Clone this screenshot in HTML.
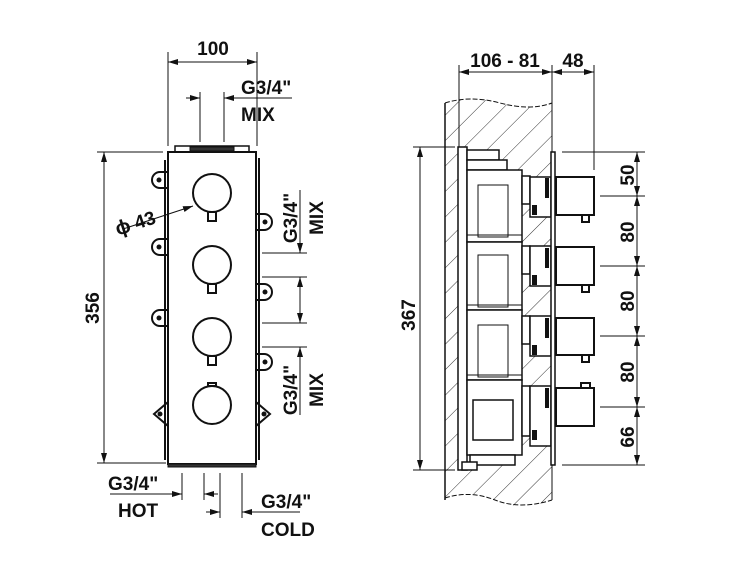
<!DOCTYPE html>
<html><head><meta charset="utf-8"><style>html,body{margin:0;padding:0;background:#fff}svg{display:block}text{font-family:"Liberation Sans",Arial,sans-serif;font-weight:bold;fill:#111}</style></head><body>
<svg width="750" height="563" viewBox="0 0 750 563" xmlns="http://www.w3.org/2000/svg">
<defs>
<pattern id="h" width="18" height="18" patternUnits="userSpaceOnUse" patternTransform="rotate(45)"><line x1="0" y1="0" x2="0" y2="18" stroke="#333" stroke-width="1"/></pattern>
<marker id="a" viewBox="0 0 10 6" refX="10" refY="3" markerWidth="10" markerHeight="6" orient="auto-start-reverse" markerUnits="userSpaceOnUse"><path d="M0,0L10,3L0,6z" fill="#111"/></marker>
</defs>
<g stroke="#111" fill="none" stroke-width="1">
<g stroke-width="2" fill="#fff">
<path d="M168,172 h-8 a8,8 0 0 0 0,16 h8"/><path d="M168,239 h-8 a8,8 0 0 0 0,16 h8"/><path d="M168,310 h-8 a8,8 0 0 0 0,16 h8"/>
<path d="M256,214 h8 a8,8 0 0 1 0,16 h-8"/><path d="M256,284 h8 a8,8 0 0 1 0,16 h-8"/><path d="M256,354 h8 a8,8 0 0 1 0,16 h-8"/>
<path d="M168,402 l-14,12 l14,12"/><path d="M256,402 l14,12 l-14,12"/>
</g>
<g fill="#111" stroke="none"><circle cx="159" cy="180" r="2.5"/><circle cx="159" cy="247" r="2.5"/><circle cx="159" cy="318" r="2.5"/><circle cx="265" cy="222" r="2.5"/><circle cx="265" cy="292" r="2.5"/><circle cx="265" cy="362" r="2.5"/><circle cx="160" cy="414" r="2.5"/><circle cx="264" cy="414" r="2.5"/></g>
<path d="M165,160 v300 M259,158 v302" stroke-width="2"/>
<rect x="168" y="152" width="88" height="312" fill="#fff" stroke-width="2"/>
<rect x="175" y="146" width="74" height="6" stroke-width="1.5"/>
<rect x="190" y="147" width="44" height="4" fill="#333"/>
<rect x="168" y="464" width="88" height="3" fill="#333"/>
<g stroke-width="2" fill="#fff">
<circle cx="212" cy="193" r="19"/><rect x="208" y="212" width="8" height="9"/>
<circle cx="212" cy="265" r="19"/><rect x="208" y="284" width="8" height="9"/>
<circle cx="212" cy="337" r="19"/><rect x="208" y="356" width="8" height="9"/>
<circle cx="212" cy="405" r="19"/><rect x="208" y="383" width="8" height="3"/>
</g>
<line x1="168" y1="52" x2="168" y2="146"/><line x1="257" y1="52" x2="257" y2="146"/>
<line x1="168" y1="62" x2="257" y2="62" marker-start="url(#a)" marker-end="url(#a)"/>
<line x1="200" y1="92" x2="200" y2="142"/><line x1="224" y1="92" x2="224" y2="142"/>
<line x1="186" y1="98" x2="200" y2="98" marker-end="url(#a)"/><line x1="238" y1="98" x2="224" y2="98" marker-end="url(#a)"/><line x1="224" y1="98" x2="292" y2="98"/>
<line x1="97" y1="152" x2="163" y2="152"/><line x1="97" y1="463" x2="166" y2="463"/>
<line x1="104" y1="152" x2="104" y2="463" marker-start="url(#a)" marker-end="url(#a)"/>
<line x1="123" y1="229" x2="193" y2="206" marker-end="url(#a)"/>
<line x1="262" y1="253" x2="307" y2="253"/><line x1="262" y1="277" x2="307" y2="277"/>
<line x1="300" y1="190" x2="300" y2="253" marker-end="url(#a)"/><line x1="300" y1="300" x2="300" y2="277" marker-end="url(#a)"/>
<line x1="262" y1="323" x2="307" y2="323"/><line x1="262" y1="347" x2="307" y2="347"/>
<line x1="300" y1="300" x2="300" y2="323" marker-end="url(#a)"/><line x1="300" y1="415" x2="300" y2="347" marker-end="url(#a)"/>
<line x1="182" y1="473" x2="182" y2="500"/><line x1="204" y1="473" x2="204" y2="500"/>
<line x1="110" y1="494" x2="182" y2="494" marker-end="url(#a)"/><line x1="218" y1="494" x2="204" y2="494" marker-end="url(#a)"/>
<line x1="220" y1="473" x2="220" y2="518"/><line x1="242" y1="473" x2="242" y2="518"/>
<line x1="206" y1="512" x2="220" y2="512" marker-end="url(#a)"/><line x1="300" y1="512" x2="242" y2="512" marker-end="url(#a)"/>
<!-- RIGHT VIEW -->
<path d="M445,103 Q470,95 500,103 T552,103 V500 Q520,512 495,500 T445,498 Z" fill="url(#h)" stroke="none"/>
<path d="M445,103 V500" stroke-width="1.5"/>
<path d="M445,103 Q470,95 500,103 T552,103" stroke-dasharray="5,2"/>
<path d="M445,498 Q470,490 495,500 T552,500" stroke-dasharray="5,2"/>
<line x1="552" y1="103" x2="552" y2="500"/>
<g fill="#fff" stroke-width="1.5">
<rect x="458" y="147" width="9" height="323"/>
<rect x="467" y="150" width="32" height="10"/><rect x="467" y="160" width="40" height="10"/>
<rect x="467" y="170" width="55" height="72"/><rect x="467" y="242" width="55" height="68"/><rect x="467" y="310" width="55" height="70"/><rect x="467" y="380" width="55" height="75"/>
<rect x="522" y="176" width="8" height="28"/><rect x="522" y="246" width="8" height="28"/><rect x="522" y="316" width="8" height="28"/><rect x="522" y="386" width="8" height="50"/>
<rect x="530" y="177" width="21" height="40"/><rect x="530" y="246" width="21" height="40"/><rect x="530" y="316" width="21" height="40"/><rect x="530" y="386" width="21" height="60"/>
<rect x="470" y="455" width="45" height="10"/><rect x="462" y="462" width="15" height="8"/>
<rect x="473" y="400" width="40" height="40"/>
</g>
<g stroke-width="1"><rect x="478" y="185" width="30" height="52"/><rect x="478" y="255" width="30" height="52"/><rect x="478" y="325" width="30" height="52"/>
<line x1="467" y1="235" x2="522" y2="235"/><line x1="467" y1="305" x2="522" y2="305"/><line x1="467" y1="375" x2="522" y2="375"/></g>
<g fill="#111" stroke="none"><rect x="545" y="178" width="4" height="20"/><rect x="532" y="205" width="5" height="10"/><rect x="545" y="248" width="4" height="20"/><rect x="532" y="275" width="5" height="10"/><rect x="545" y="318" width="4" height="20"/><rect x="532" y="345" width="5" height="10"/><rect x="545" y="388" width="4" height="20"/><rect x="532" y="430" width="5" height="10"/></g>
<rect x="551" y="152" width="4" height="313" fill="#fff" stroke-width="1.5"/>
<g fill="#fff" stroke-width="2">
<rect x="556" y="177" width="38" height="38"/><rect x="582" y="215" width="7" height="7"/>
<rect x="556" y="247" width="38" height="38"/><rect x="582" y="285" width="7" height="7"/>
<rect x="556" y="318" width="38" height="37"/><rect x="582" y="355" width="7" height="7"/>
<rect x="556" y="388" width="38" height="38"/><rect x="581" y="383" width="9" height="5"/>
</g>
<line x1="459" y1="65" x2="459" y2="147"/><line x1="552" y1="65" x2="552" y2="103"/><line x1="594" y1="65" x2="594" y2="170"/>
<line x1="459" y1="72" x2="552" y2="72" marker-start="url(#a)" marker-end="url(#a)"/>
<line x1="552" y1="72" x2="594" y2="72" marker-start="url(#a)" marker-end="url(#a)"/>
<line x1="413" y1="147" x2="455" y2="147"/><line x1="413" y1="470" x2="455" y2="470"/>
<line x1="420" y1="147" x2="420" y2="470" marker-start="url(#a)" marker-end="url(#a)"/>
<line x1="562" y1="152" x2="645" y2="152"/><line x1="600" y1="196" x2="645" y2="196"/><line x1="600" y1="266" x2="645" y2="266"/><line x1="600" y1="336" x2="645" y2="336"/><line x1="600" y1="407" x2="645" y2="407"/><line x1="562" y1="465" x2="645" y2="465"/>
<line x1="637" y1="152" x2="637" y2="196" marker-start="url(#a)" marker-end="url(#a)"/>
<line x1="637" y1="196" x2="637" y2="266" marker-start="url(#a)" marker-end="url(#a)"/>
<line x1="637" y1="266" x2="637" y2="336" marker-start="url(#a)" marker-end="url(#a)"/>
<line x1="637" y1="336" x2="637" y2="407" marker-start="url(#a)" marker-end="url(#a)"/>
<line x1="637" y1="407" x2="637" y2="465" marker-start="url(#a)" marker-end="url(#a)"/>
</g>
<g font-size="19">
<text x="213" y="55" text-anchor="middle">100</text>
<text x="241" y="94">G3/4"</text><text x="241" y="121">MIX</text>
<g transform="rotate(-18 140 220)"><text x="114" y="228" font-weight="normal" font-size="20">ϕ</text><text x="134" y="228">43</text></g>
<text transform="translate(99,308) rotate(-90)" text-anchor="middle">356</text>
<text transform="translate(297,218) rotate(-90)" text-anchor="middle">G3/4"</text>
<text transform="translate(323,218) rotate(-90)" text-anchor="middle">MIX</text>
<text transform="translate(297,390) rotate(-90)" text-anchor="middle">G3/4"</text>
<text transform="translate(323,390) rotate(-90)" text-anchor="middle">MIX</text>
<text x="108" y="490">G3/4"</text><text x="118" y="517">HOT</text>
<text x="261" y="508">G3/4"</text><text x="261" y="536">COLD</text>
<text x="505" y="67" text-anchor="middle">106 - 81</text><text x="573" y="67" text-anchor="middle">48</text>
<text transform="translate(415,315) rotate(-90)" text-anchor="middle">367</text>
<text transform="translate(634,175) rotate(-90)" text-anchor="middle">50</text>
<text transform="translate(634,232) rotate(-90)" text-anchor="middle">80</text>
<text transform="translate(634,301) rotate(-90)" text-anchor="middle">80</text>
<text transform="translate(634,372) rotate(-90)" text-anchor="middle">80</text>
<text transform="translate(634,437) rotate(-90)" text-anchor="middle">66</text>
</g>
</svg>
</body></html>
